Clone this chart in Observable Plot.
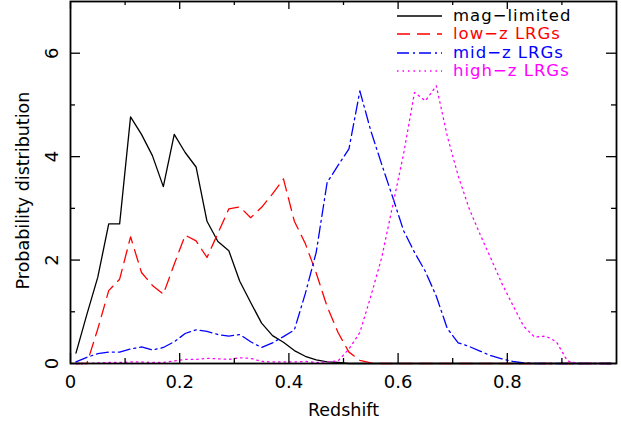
<!DOCTYPE html>
<html><head><meta charset="utf-8">
<script src="https://cdn.jsdelivr.net/npm/d3@7"></script>
<script src="https://cdn.jsdelivr.net/npm/@observablehq/plot@0.6"></script>
<style>
body{margin:0;background:#fff;}
#wrap{position:relative;width:621px;height:435px;font-family:"DejaVu Sans",sans-serif;}
#legend{position:absolute;left:397px;top:7px;}
.row{display:flex;align-items:center;height:18.3px;}
.row span{margin-left:11px;font-size:16.5px;letter-spacing:1px;line-height:18px;}
.row svg{display:block;}
</style></head><body><div id="wrap"></div>
<script>
// Redshift bin centres
const redshift = [0.01,0.03,0.05,0.07,0.09,0.11,0.13,0.15,0.17,0.19,
                  0.21,0.23,0.25,0.27,0.29,0.31,0.33,0.35,0.37,0.39,
                  0.41,0.43,0.45,0.47,0.49,0.51,0.53,0.55,0.57,0.59,
                  0.61,0.63,0.65,0.67,0.69,0.71,0.73,0.75,0.77,0.79,
                  0.81,0.83,0.85,0.87,0.89,0.91,0.93,0.95,0.97,0.99];
const magLimited = [0.20,0.95,1.67,2.70,2.70,4.77,4.43,4.02,3.42,4.43,
                    4.08,3.80,2.75,2.36,2.18,1.59,1.18,0.78,0.54,0.41,
                    0.25,0.14,0.07,0.03,0.02,0,0,0,0,0,
                    0,0,0,0,0,0,0,0,0,0,
                    0,0,0,0,0,0,0,0,0,0];
const lowZ = [0,0,0.67,1.41,1.63,2.45,1.76,1.51,1.34,1.92,
              2.48,2.37,2.05,2.52,2.99,3.03,2.82,3.02,3.28,3.57,
              2.75,2.32,1.75,1.10,0.60,0.22,0.06,0.01,0,0,
              0,0,0,0,0,0,0,0,0,0,
              0,0,0,0,0,0,0,0,0,0];
const midZ = [0.03,0.12,0.19,0.22,0.22,0.28,0.32,0.26,0.31,0.42,
              0.58,0.65,0.62,0.56,0.53,0.56,0.42,0.31,0.40,0.52,
              0.65,1.35,2.15,3.50,3.83,4.15,5.27,4.50,3.85,3.22,
              2.57,2.15,1.78,1.30,0.68,0.40,0.33,0.24,0.15,0.09,
              0.04,0.01,0,0,0,0,0,0,0,0];
const highZ = [0,0,0.01,0.02,0.02,0.03,0.03,0.02,0.02,0.05,
               0.08,0.08,0.10,0.09,0.08,0.11,0.10,0.04,0.03,0.03,
               0.03,0.04,0.02,0.03,0.05,0.28,0.60,1.30,2.05,3.05,
               4.05,5.24,5.08,5.37,4.40,3.63,3.00,2.50,2.03,1.55,
               1.13,0.72,0.51,0.53,0.42,0.05,0,0,0,0];
const seriesNames = ["mag\u2212limited","low\u2212z LRGs","mid\u2212z LRGs","high\u2212z LRGs"];
const seriesColors = ["#000000","#ff0000","#0000ff","#ff00ff"];
const seriesDash = ["none","13,7","12,4,2,4","1.5,4"];
const xMajor = [0,0.2,0.4,0.6,0.8];
const xMajorLabels = ["0","0.2","0.4","0.6","0.8"];
const xMinor = [0.1,0.3,0.5,0.7,0.9];
const yMajor = [0,2,4,6];
const yMajorLabels = ["0","2","4","6"];
const yMinor = [1,3,5];
const xTitle = ["Redshift"];
const yTitle = ["Probability distribution"];

const W = 621, H = 435, mL = 70, mR = 5, mT = 1, mB = 72;
const fw = W - mL - mR, fh = H - mT - mB;
const seriesData = [magLimited, lowZ, midZ, highZ];

const lines = seriesData.map((vals, k) => Plot.line(vals, {
  x: (d, i) => redshift[i], y: d => d,
  stroke: seriesColors[k], strokeWidth: 1.3,
  strokeDasharray: seriesDash[k] === "none" ? undefined : seriesDash[k]
}));

const chart = Plot.plot({
  width: W, height: H,
  marginLeft: mL, marginRight: mR, marginTop: mT, marginBottom: mB,
  x: {domain: [0, 1], axis: null},
  y: {domain: [0, 7], axis: null},
  style: {fontFamily: "DejaVu Sans, sans-serif", background: "#fff", color: "#000"},
  marks: [
    ...lines,
    Plot.ruleX(xMajor, {x: d => d, insetTop: fh - 10, stroke: "black", strokeWidth: 1.3}),
    Plot.ruleX(xMajor, {x: d => d, insetBottom: fh - 8, stroke: "black", strokeWidth: 1.3}),
    Plot.ruleX(xMinor, {x: d => d, insetTop: fh - 5, stroke: "black", strokeWidth: 1.3}),
    Plot.ruleX(xMinor, {x: d => d, insetBottom: fh - 4, stroke: "black", strokeWidth: 1.3}),
    Plot.ruleY(yMajor, {y: d => d, insetRight: fw - 10, stroke: "black", strokeWidth: 1.3}),
    Plot.ruleY(yMajor, {y: d => d, insetLeft: fw - 10, stroke: "black", strokeWidth: 1.3}),
    Plot.ruleY(yMinor, {y: d => d, insetRight: fw - 5, stroke: "black", strokeWidth: 1.3}),
    Plot.ruleY(yMinor, {y: d => d, insetLeft: fw - 5, stroke: "black", strokeWidth: 1.3}),
    Plot.frame({stroke: "black", strokeWidth: 1.8}),
    Plot.text(xMajor, {x: d => d, frameAnchor: "bottom", dy: 19, text: (d, i) => xMajorLabels[i],
      fontSize: 18, lineAnchor: "middle", fill: "black"}),
    Plot.text(yMajor, {y: d => d, frameAnchor: "left", dx: -18, rotate: -90, text: (d, i) => yMajorLabels[i],
      fontSize: 18, textAnchor: "middle", lineAnchor: "middle", fill: "black"}),
    Plot.text(xTitle, {frameAnchor: "bottom", dy: 47, text: d => d, fontSize: 17.5, lineAnchor: "middle", fill: "black"}),
    Plot.text(yTitle, {frameAnchor: "left", dx: -47, dy: 8, rotate: -90, text: d => d, fontSize: 17.5,
      textAnchor: "middle", lineAnchor: "middle", fill: "black"})
  ]
});

const wrap = document.getElementById("wrap");
wrap.appendChild(chart);

const legend = document.createElement("div");
legend.id = "legend";
seriesNames.forEach((name, k) => {
  const row = document.createElement("div");
  row.className = "row";
  const dash = seriesDash[k] === "none" ? "" : `stroke-dasharray="${seriesDash[k]}"`;
  row.innerHTML = `<svg width="45" height="18"><line x1="0" y1="9" x2="45" y2="9" stroke="${seriesColors[k]}" stroke-width="1.3" ${dash}/></svg><span style="color:${seriesColors[k]}">${name}</span>`;
  legend.appendChild(row);
});
wrap.appendChild(legend);
</script>
</body></html>
